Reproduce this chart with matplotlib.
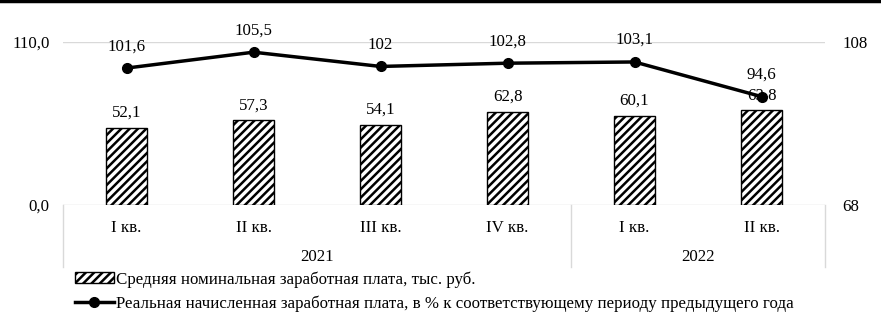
import matplotlib
matplotlib.use('Agg')
import matplotlib.pyplot as plt
from matplotlib.lines import Line2D

plt.rcParams['font.family'] = ['Liberation Serif', 'DejaVu Serif']
plt.rcParams['hatch.linewidth'] = 1.8

quarters = ['I кв.', 'II кв.', 'III кв.', 'IV кв.', 'I кв.', 'II кв.']
years = ['2021', '2022']
year_sizes = [4, 2]
nominal = [52.1, 57.3, 54.1, 62.8, 60.1, 63.8]
nominal_labels = ['52,1', '57,3', '54,1', '62,8', '60,1', '63,8']
real = [101.6, 105.5, 102.0, 102.8, 103.1, 94.6]
real_labels = ['101,6', '105,5', '102', '102,8', '103,1', '94,6']

fig = plt.figure(figsize=(8.81, 3.25), dpi=100)
ax = fig.add_axes([63 / 881, 1 - 205 / 325, 762 / 881, 163 / 325])
ax2 = ax.twinx()

x = list(range(len(quarters)))
fs = 12.2
grid_c = '#d9d9d9'

bars = ax.bar(x, nominal, width=0.33, color='white', edgecolor='black',
              linewidth=1.0, hatch='////', zorder=2,
              label='Средняя номинальная заработная плата, тыс. руб.')
for xi, v, t in zip(x, nominal, nominal_labels):
    ax.annotate(t, (xi, v), xytext=(0, 5), textcoords='offset points',
                ha='center', va='bottom', fontsize=fs)

ax2.plot(x, real, color='black', lw=2.5, marker='o', markersize=7, zorder=3,
         label='Реальная начисленная заработная плата, в % к соответствующему периоду предыдущего года')
for xi, v, t in zip(x, real, real_labels):
    ax2.annotate(t, (xi, v), xytext=(0, 10), textcoords='offset points',
                 ha='center', va='bottom', fontsize=fs)

ax.set_xlim(-0.5, len(quarters) - 0.5)
ax.set_ylim(0, 110)
ax2.set_ylim(68, 108)
ax.set_yticks([0, 110])
ax.set_yticklabels(['0,0', '110,0'], fontsize=fs)
ax2.set_yticks([68, 108])
ax2.set_yticklabels(['68', '108'], fontsize=fs)
ax.tick_params(axis='y', length=0, pad=9.5)
ax2.tick_params(axis='y', length=0, pad=12.5)
ax.set_xticks([])
for a in (ax, ax2):
    for s in a.spines.values():
        s.set_visible(False)
ax.axhline(110, color=grid_c, lw=1, zorder=0)
ax.axhline(0, color=grid_c, lw=1, zorder=1)

# two-level category axis
trans = ax.get_xaxis_transform()
for xi, q in zip(x, quarters):
    ax.text(xi, -0.14, q, transform=trans, ha='center', va='center', fontsize=fs)
start = 0
bounds = [-0.5]
for yname, n in zip(years, year_sizes):
    ax.text(start + (n - 1) / 2, -0.32, yname, transform=trans, ha='center',
            va='center', fontsize=fs)
    start += n
    bounds.append(start - 0.5)
for b in bounds:
    ax.add_line(Line2D([b, b], [0, -0.38], transform=trans, color=grid_c,
                       lw=1, clip_on=False))

h1, l1 = ax.get_legend_handles_labels()
h2, l2 = ax2.get_legend_handles_labels()
fig.legend(h1 + h2, l1 + l2, loc='upper left', bbox_to_anchor=(75 / 881, 1 - 271 / 325),
           frameon=False, fontsize=fs, handlelength=2.3, handleheight=0.6,
           handletextpad=0.1, labelspacing=0.45, borderaxespad=0, borderpad=0)

fig.add_artist(Line2D([0, 1], [0.996, 0.996], transform=fig.transFigure,
                      color='black', lw=2.5))

fig.savefig('out.png', dpi=100)
